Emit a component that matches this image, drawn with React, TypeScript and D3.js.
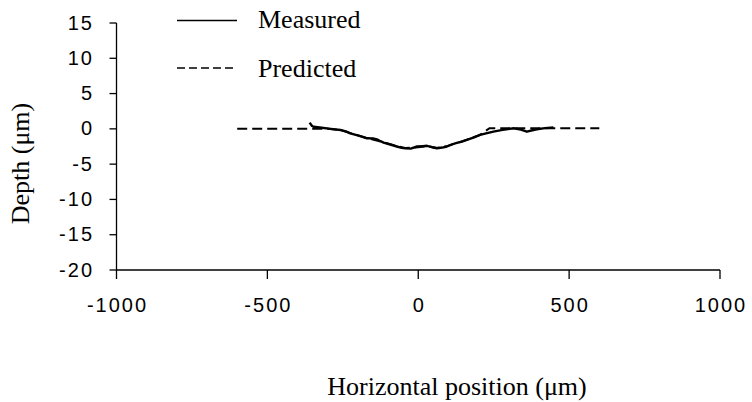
import React from "react";
import * as d3 from "d3";

const xTicks = [-1000, -500, 0, 500, 1000];
const yTicks = [15, 10, 5, 0, -5, -10, -15, -20];

const measuredX = [-360, -352, -347, -320, -290, -258, -240, -225, -195, -170, -150, -137, -125, -115, -90, -71, -55, -43, -25, -4, 15, 29, 45, 62, 80, 95, 112, 128, 145, 161, 185, 205, 225, 249, 280, 316, 340, 360, 378, 393, 420, 448];
const measuredY = [0.88, 0.4, 0.3, 0.15, 0.0, -0.16, -0.35, -0.63, -1.0, -1.34, -1.35, -1.48, -1.75, -1.95, -2.25, -2.5, -2.7, -2.75, -2.8, -2.5, -2.45, -2.4, -2.6, -2.75, -2.65, -2.5, -2.2, -2.0, -1.8, -1.57, -1.2, -0.86, -0.65, -0.4, -0.15, 0.08, -0.1, -0.4, -0.2, -0.06, 0.1, 0.2];

const predictedX = [-600, -340, -300, -258, -225, -170, -115, -71, -43, 0, 29, 62, 95, 128, 161, 205, 236, 600];
const predictedY = [0, 0, 0.0, -0.16, -0.6, -1.3, -1.9, -2.45, -2.7, -2.6, -2.45, -2.7, -2.45, -2.0, -1.55, -0.85, 0.1, 0.1];

const legendLabels = ["Measured", "Predicted"];

export default function App() {
  const x = d3.scaleLinear().domain([-1000, 1000]).range([116.5, 720]);
  const y = d3.scaleLinear().domain([-20, 15]).range([270, 23]);

  const line = d3
    .line<[number, number]>()
    .x((d) => x(d[0]))
    .y((d) => y(d[1]));

  const measured: [number, number][] = measuredX.map((v, i) => [v, measuredY[i]]);
  const predicted: [number, number][] = predictedX.map((v, i) => [v, predictedY[i]]);

  const sans = "'Liberation Sans', Arial, sans-serif";
  const serif = "'Liberation Serif', 'Times New Roman', serif";

  return (
    <svg
      width={752}
      height={402}
      style={{ position: "absolute", left: 0, top: 0, background: "#fff" }}
    >
      {/* axes */}
      <line x1={x(-1000)} x2={x(1000)} y1={y(-20)} y2={y(-20)} stroke="#000" strokeWidth={1.3} />
      <line x1={x(-1000)} x2={x(-1000)} y1={y(15)} y2={y(-20)} stroke="#000" strokeWidth={1.3} />
      {yTicks.map((t) => (
        <g key={"y" + t}>
          <line x1={x(-1000) - 7} x2={x(-1000)} y1={y(t)} y2={y(t)} stroke="#000" strokeWidth={1.3} />
          <text
            x={94}
            y={y(t) + 6.5}
            textAnchor="end"
            fontFamily={sans}
            fontSize={20}
            letterSpacing={2}
            fill="#000"
          >
            {t}
          </text>
        </g>
      ))}
      {xTicks.map((t) => (
        <g key={"x" + t}>
          <line x1={x(t)} x2={x(t)} y1={y(-20)} y2={y(-20) + 9} stroke="#000" strokeWidth={1.3} />
          <text
            x={x(t) + 1}
            y={312}
            textAnchor="middle"
            fontFamily={sans}
            fontSize={20}
            letterSpacing={2}
            fill="#000"
          >
            {t}
          </text>
        </g>
      ))}

      {/* series */}
      <path d={line(predicted) || ""} fill="none" stroke="#000" strokeWidth={2} strokeDasharray="10,5" />
      <path d={line(measured) || ""} fill="none" stroke="#000" strokeWidth={2.4} strokeLinejoin="round" />

      {/* legend */}
      <line x1={177} x2={237} y1={20.5} y2={20.5} stroke="#000" strokeWidth={1.6} />
      <text x={258} y={28} fontFamily={serif} fontSize={26} fill="#000">
        {legendLabels[0]}
      </text>
      <line x1={177} x2={237} y1={68} y2={68} stroke="#000" strokeWidth={1.6} strokeDasharray="8,4" />
      <text x={258} y={77} fontFamily={serif} fontSize={26} fill="#000">
        {legendLabels[1]}
      </text>

      {/* axis titles */}
      <text
        transform="translate(29,163.5) rotate(-90)"
        textAnchor="middle"
        fontFamily={serif}
        fontSize={26}
        fill="#000"
      >
        Depth (μm)
      </text>
      <text x={457} y={395} textAnchor="middle" fontFamily={serif} fontSize={26} fill="#000">
        Horizontal position (μm)
      </text>
    </svg>
  );
}
